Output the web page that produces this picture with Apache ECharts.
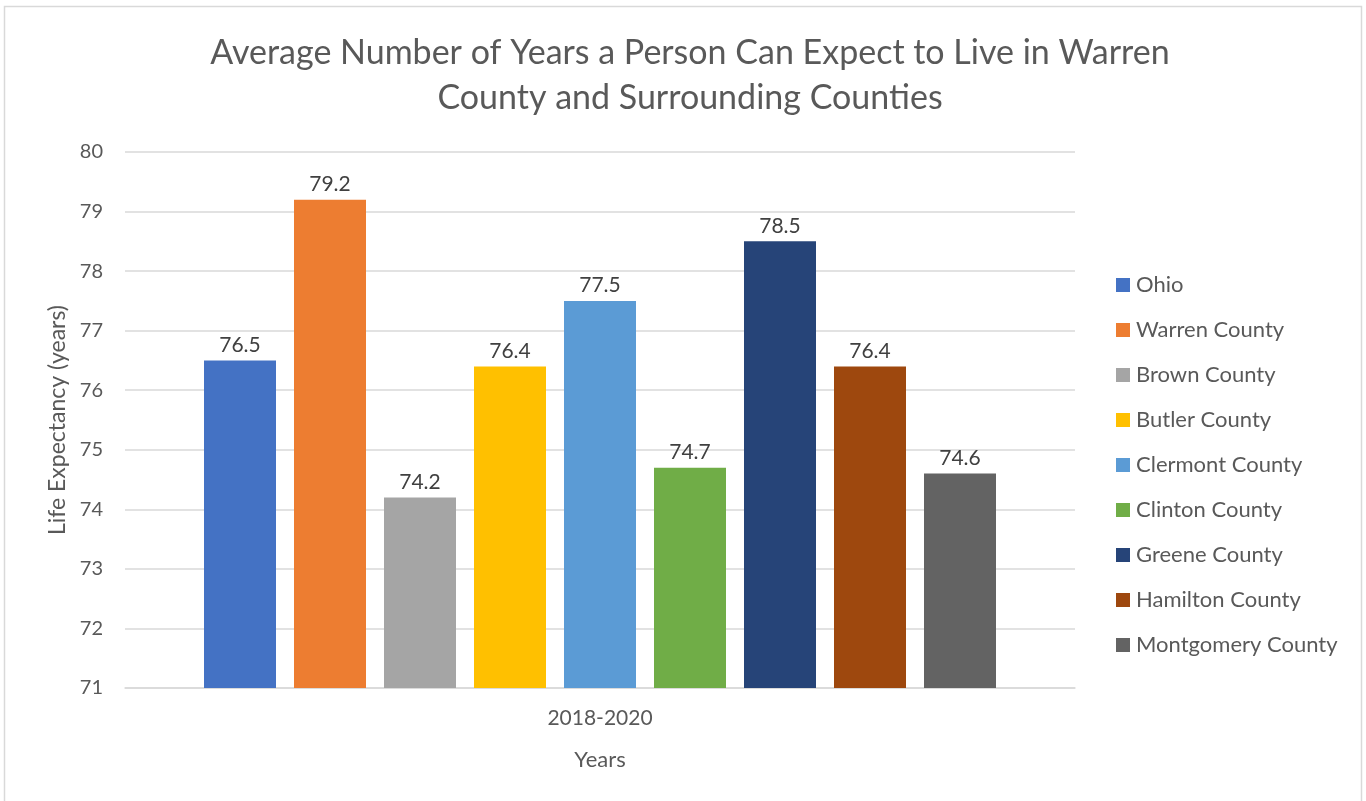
<!DOCTYPE html>
<html>
<head>
<meta charset="utf-8">
<script src="https://cdn.jsdelivr.net/npm/echarts@6/dist/echarts.min.js"></script>
<style>
  html, body { margin: 0; padding: 0; background: #fff; }
  #chart { width: 1366px; height: 801px; }
</style>
</head>
<body>
<div id="chart"></div>
<script>
// Life expectancy by county, 2018-2020
const categories = ['2018-2020'];
const seriesNames = ['Ohio', 'Warren County', 'Brown County', 'Butler County', 'Clermont County',
  'Clinton County', 'Greene County', 'Hamilton County', 'Montgomery County'];
const seriesValues = [76.5, 79.2, 74.2, 76.4, 77.5, 74.7, 78.5, 76.4, 74.6];
const seriesColors = ['#4472C4', '#ED7D31', '#A5A5A5', '#FFC000', '#5B9BD5',
  '#70AD47', '#264478', '#9E480E', '#636363'];
const yTicks = [71, 72, 73, 74, 75, 76, 77, 78, 79, 80];

const FONT = 'Lato, "Noto Sans", sans-serif';
const chart = echarts.init(document.getElementById('chart'));

chart.setOption({
  animation: false,
  backgroundColor: '#fff',
  graphic: [{
    type: 'rect',
    shape: { x: 4.5, y: 6.5, width: 1357, height: 800 },
    style: { fill: 'none', stroke: '#d9d9d9', lineWidth: 1.5 },
    silent: true
  }],
  title: {
    text: 'Average Number of Years a Person Can Expect to Live in Warren\nCounty and Surrounding Counties',
    left: 685,
    textAlign: 'center',
    top: 26,
    textStyle: { fontFamily: FONT, fontSize: 34, fontWeight: 'normal', color: '#595959', lineHeight: 45 }
  },
  legend: {
    orient: 'vertical',
    left: 1116,
    top: 274,
    padding: 0,
    itemWidth: 14,
    itemHeight: 14,
    itemGap: 23,
    icon: 'rect',
    data: seriesNames,
    textStyle: { fontFamily: FONT, fontSize: 22, color: '#595959', padding: [0, 0, 0, 1] }
  },
  grid: { left: 125, right: 291, top: 152, bottom: 113, containLabel: false },
  xAxis: {
    type: 'category',
    data: categories,
    name: 'Years',
    nameLocation: 'middle',
    nameGap: 61,
    nameTextStyle: { fontFamily: FONT, fontSize: 22, color: '#595959' },
    axisLine: { show: true, lineStyle: { color: '#d9d9d9', width: 1.5 } },
    axisTick: { show: false },
    axisLabel: { fontFamily: FONT, fontSize: 21, color: '#595959', margin: 20 }
  },
  yAxis: {
    type: 'value',
    min: yTicks[0],
    max: yTicks[yTicks.length - 1],
    interval: 1,
    name: 'Life Expectancy (years)',
    nameLocation: 'middle',
    nameGap: 55,
    nameTextStyle: { fontFamily: FONT, fontSize: 23, color: '#595959' },
    axisLine: { show: false },
    axisTick: { show: false },
    axisLabel: { fontFamily: FONT, fontSize: 20, color: '#595959', margin: 22 },
    splitLine: { lineStyle: { color: '#d9d9d9', width: 1.5 } }
  },
  series: seriesNames.map((name, i) => ({
    name: name,
    type: 'bar',
    data: [seriesValues[i]],
    barWidth: 72,
    barGap: '25%',
    itemStyle: { color: seriesColors[i] },
    label: {
      show: true,
      position: 'top',
      distance: 5,
      fontFamily: FONT,
      fontSize: 21,
      color: '#404040',
      formatter: p => p.value.toFixed(1)
    }
  }))
});
</script>
</body>
</html>
